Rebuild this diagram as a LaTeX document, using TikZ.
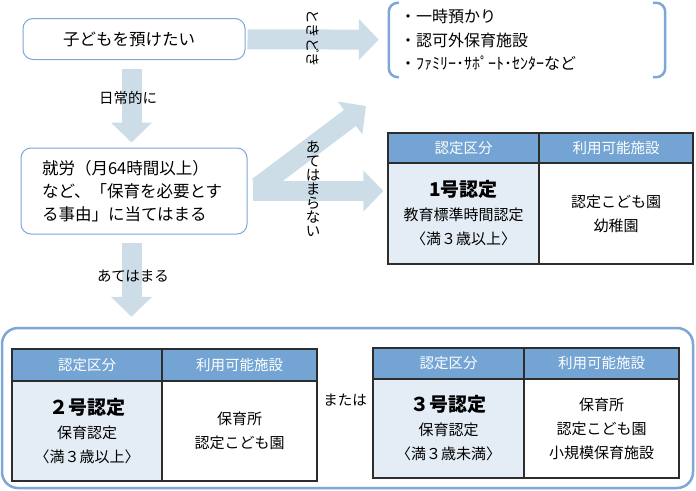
\documentclass[tikz,border=0pt]{standalone}
\usepackage{fontspec}
\setmainfont{Noto Sans CJK JP}
\usetikzlibrary{arrows.meta}
\pgfdeclarelayer{edgelayer}
\pgfdeclarelayer{nodelayer}
\pgfsetlayers{edgelayer,nodelayer,main}
\definecolor{arrowgray}{RGB}{205,221,232}
\definecolor{boxblue}{RGB}{126,166,214}
\definecolor{headblue}{RGB}{115,164,211}
\definecolor{paleblue}{RGB}{228,236,246}
\definecolor{gridgray}{RGB}{45,45,45}
\tikzstyle{flowbox}=[rectangle,rounded corners=10pt,draw=boxblue,line width=1pt,fill=white,font=\fontsize{16.5}{23}\selectfont]
\tikzstyle{bigarrow}=[-{Triangle[length=20pt,width=40pt]},draw=arrowgray,line width=20pt]
\tikzstyle{headcell}=[rectangle,draw=gridgray,line width=1.3pt,fill=headblue,text=white,font=\fontsize{14.5}{16}\selectfont]
\tikzstyle{kindcell}=[rectangle,draw=gridgray,line width=1.3pt,fill=paleblue,align=center,font=\fontsize{15}{24}\selectfont]
\tikzstyle{placecell}=[rectangle,draw=gridgray,line width=1.3pt,fill=white,align=center,font=\fontsize{15}{24}\selectfont]
\tikzstyle{note}=[inner sep=0pt,font=\fontsize{14.5}{14}\selectfont]
\tikzstyle{bracket}=[draw=boxblue,line width=2.5pt,rounded corners=9pt]
\tikzstyle{group}=[rectangle,rounded corners=16pt,draw=boxblue,line width=2.5pt]

\begin{document}
\begin{tikzpicture}[x=1pt,y=-1pt]
	\useasboundingbox (0,0) rectangle (696,490);
	\begin{pgfonlayer}{nodelayer}
		\node [style=flowbox, minimum width=222pt, minimum height=41pt, text width=142pt, inner xsep=40pt, align=left] (0) at (134,39) {子どもを預けたい};
		\node [rectangle, minimum width=276pt, minimum height=74pt, text width=254pt, inner xsep=11pt, align=left, font=\fontsize{16}{23.5}\selectfont] (1) at (527,40) {・一時預かり\\・認可外保育施設\\・ﾌｧﾐﾘｰ･ｻﾎﾟｰﾄ･ｾﾝﾀｰなど};
		\node [style=flowbox, minimum width=226pt, minimum height=86pt, text width=184pt, inner xsep=21pt, align=left] (2) at (134,191) {就労（月64時間以上）\\など、「保育を必要とす\\る事由」に当てはまる};
		\node [style=group, minimum width=691pt, minimum height=160pt] (3) at (347.5,408) {};
		\node [style=headcell, minimum width=151pt, minimum height=30pt] (4) at (463.5,148) {認定区分};
		\node [style=headcell, minimum width=154pt, minimum height=30pt] (5) at (616,148) {利用可能施設};
		\node [style=kindcell, minimum width=151pt, minimum height=101pt] (6) at (463.5,213.5) {{\fontsize{19}{24}\selectfont\bfseries 1号認定}\\教育標準時間認定\\〈満３歳以上〉};
		\node [style=placecell, minimum width=154pt, minimum height=101pt] (7) at (616,213.5) {認定こども園\\幼稚園};
		\coordinate (8) at (258,187);
		\coordinate (9) at (366,106);
		\node [style=headcell, minimum width=150pt, minimum height=32pt] (10) at (87,365) {認定区分};
		\node [style=headcell, minimum width=155pt, minimum height=32pt] (11) at (239.5,365) {利用可能施設};
		\node [style=kindcell, minimum width=150pt, minimum height=100pt] (12) at (87,431) {{\fontsize{19}{24}\selectfont\bfseries ２号認定}\\保育認定\\〈満３歳以上〉};
		\node [style=placecell, minimum width=155pt, minimum height=100pt] (13) at (239.5,431) {保育所\\認定こども園};
		\node [style=headcell, minimum width=151pt, minimum height=31pt] (14) at (448.5,363.5) {認定区分};
		\node [style=headcell, minimum width=155pt, minimum height=31pt] (15) at (601.5,363.5) {利用可能施設};
		\node [style=kindcell, minimum width=151pt, minimum height=99pt] (16) at (448.5,428.5) {{\fontsize{19}{24}\selectfont\bfseries ３号認定}\\保育認定\\〈満３歳未満〉};
		\node [style=placecell, minimum width=155pt, minimum height=99pt] (17) at (601.5,428.5) {保育所\\認定こども園\\小規模保育施設};
		\node [style=note] (18) at (128,98) {日常的に};
		\node [style=note, rotate=-90] (19) at (313,38) {ときどき};
		\node [style=note, align=center] (20) at (313,189) {あ\\て\\は\\ま\\ら\\な\\い};
		\node [style=note] (21) at (133,276) {あてはまる};
		\node [style=note] (22) at (345,400) {または};
	\end{pgfonlayer}
	\begin{pgfonlayer}{edgelayer}
		\draw [style=bigarrow, shorten <=2pt, shorten >=10pt] (0) to (1);
		\draw [style=bigarrow, shorten <=9pt, shorten >=5pt] ([xshift=-2.5pt]0.south) to ([xshift=-2.5pt]2.north);
		\draw [style=bigarrow, shorten <=5pt, shorten >=4pt] (2.east) to (2.east -| 4.west);
		\draw [style=bigarrow] (8) to (9);
		\draw [style=bigarrow, shorten <=8pt, shorten >=10pt] ([xshift=-2.5pt]2.south) to ([xshift=-2.5pt]2.south |- 3.north);
	\end{pgfonlayer}
	\draw [style=bracket] ([xshift=10pt]1.north west) -- (1.north west) -- (1.south west) -- ([xshift=10pt]1.south west);
	\draw [style=bracket] ([xshift=-12pt]1.north east) -- (1.north east) -- (1.south east) -- ([xshift=-12pt]1.south east);
\end{tikzpicture}
\end{document}
